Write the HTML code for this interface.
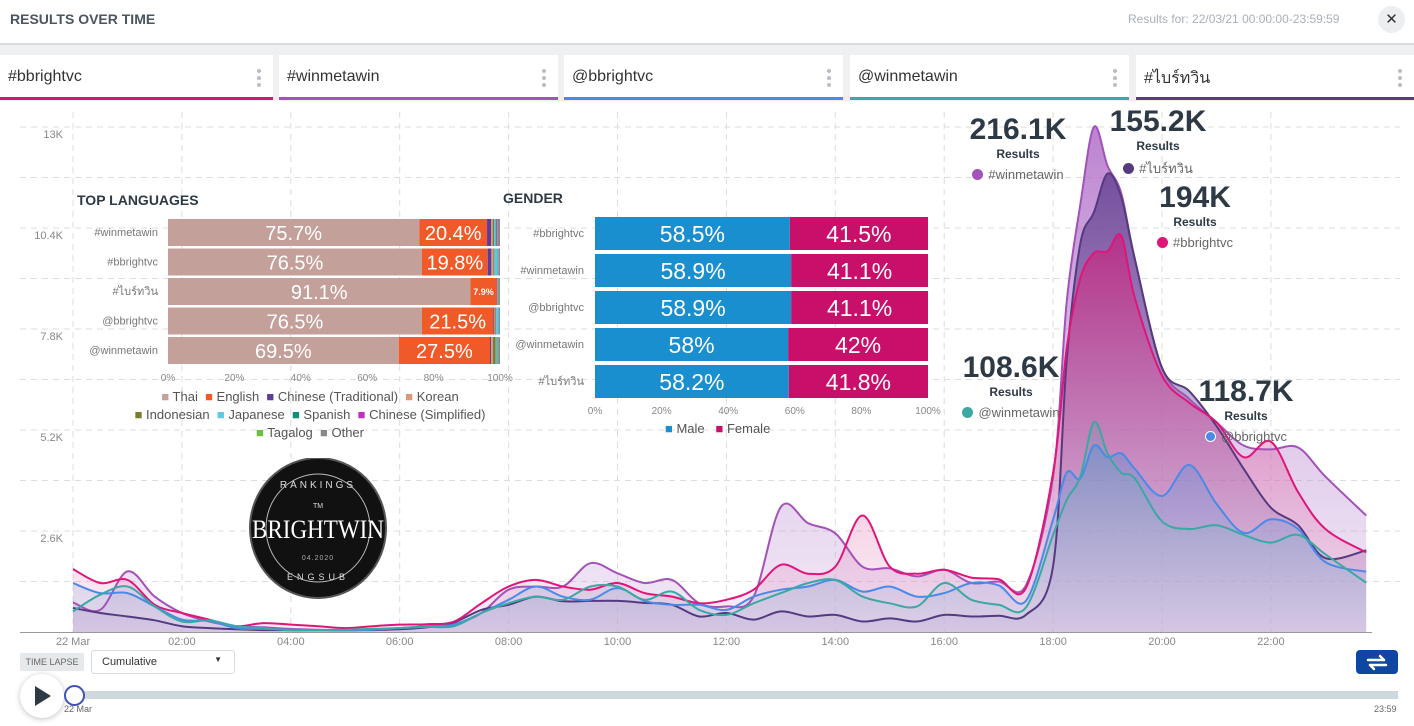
<!DOCTYPE html>
<html><head><meta charset="utf-8">
<style>
*{box-sizing:border-box;margin:0;padding:0}
body{width:1414px;height:726px;background:#fff;font-family:"Liberation Sans",sans-serif;position:relative;overflow:hidden;color:#333}
.abs{position:absolute}
.tab{position:absolute;top:55px;height:45px;background:#fff;font-size:16px;color:#333;padding:13px 0 0 8px}
.kebab{position:absolute;right:12px;top:14px;width:4px;height:18px}
.kebab i{display:block;width:4px;height:4px;border-radius:2px;background:#b8bec4;margin-bottom:3px}
</style></head><body>
<div class="abs" style="left:10px;top:11px;font-size:14px;font-weight:bold;color:#4a5560">RESULTS OVER TIME</div>
<div class="abs" style="left:1128px;top:12px;font-size:12px;color:#a8b0b8">Results for: 22/03/21 00:00:00-23:59:59</div>
<div class="abs" style="left:1378px;top:6px;width:27px;height:27px;border-radius:14px;background:#eceef0;text-align:center;line-height:27px;font-size:15px;color:#333">✕</div>
<div class="abs" style="left:0;top:43px;width:1414px;height:2px;background:#d8dcdf"></div>
<div class="abs" style="left:0;top:45px;width:1414px;height:56px;background:#eef0f2"></div>
<div class="tab" style="left:0;width:273px;border-bottom:3px solid #d4166f">#bbrightvc<span class="kebab"><i></i><i></i><i></i></span></div>
<div class="tab" style="left:279px;width:279px;border-bottom:3px solid #a352b8">#winmetawin<span class="kebab"><i></i><i></i><i></i></span></div>
<div class="tab" style="left:564px;width:279px;border-bottom:3px solid #4a8ae0">@bbrightvc<span class="kebab"><i></i><i></i><i></i></span></div>
<div class="tab" style="left:850px;width:279px;border-bottom:3px solid #3aa8a4">@winmetawin<span class="kebab"><i></i><i></i><i></i></span></div>
<div class="tab" style="left:1136px;width:278px;border-bottom:3px solid #5b3a84;padding-top:11px">#ไบร์ทวิน<span class="kebab"><i></i><i></i><i></i></span></div>

<svg id="main" class="abs" style="left:0;top:0" width="1414" height="726">
<defs>
<linearGradient id="gP" x1="0" y1="0" x2="0" y2="1"><stop offset="0" stop-color="#b06cc8" stop-opacity="0.85"/><stop offset="1" stop-color="#c9a8dc" stop-opacity="0.25"/></linearGradient>
<linearGradient id="gD" x1="0" y1="0" x2="0" y2="1"><stop offset="0" stop-color="#5b3a8a" stop-opacity="0.75"/><stop offset="1" stop-color="#8a78b8" stop-opacity="0.15"/></linearGradient>
<linearGradient id="gK" x1="0" y1="0" x2="0" y2="1"><stop offset="0" stop-color="#d01a78" stop-opacity="0.65"/><stop offset="1" stop-color="#e890c0" stop-opacity="0.15"/></linearGradient>
<linearGradient id="gB" x1="0" y1="0" x2="0" y2="1"><stop offset="0" stop-color="#5a8ad8" stop-opacity="0.45"/><stop offset="1" stop-color="#b0b8e0" stop-opacity="0.2"/></linearGradient>
<linearGradient id="gT" x1="0" y1="0" x2="0" y2="1"><stop offset="0" stop-color="#40a8a8" stop-opacity="0.2"/><stop offset="1" stop-color="#c8c0e0" stop-opacity="0.25"/></linearGradient>
</defs>
<g id="grid"></g><g id="areas"></g><g id="lines"></g><g id="axes"></g>
</svg>

<script>
const times=[0,0.5,1,1.5,2,2.5,3,3.5,4,4.5,5,5.5,6,6.5,7,7.5,8,8.5,9,9.5,10,10.5,11,11.5,12,12.5,13,13.5,14,14.5,15,15.5,16,16.5,17,17.5,18,18.25,18.5,18.75,19,19.25,19.5,20,20.5,21,21.5,22,22.5,23,23.75];
const winmetawinTag=[0.76,0.57,1.56,0.91,0.49,0.27,0.15,0.12,0.08,0.06,0.05,0.06,0.1,0.15,0.2,0.49,1.09,1.17,1.17,1.77,1.51,1.26,1.34,0.74,0.66,0.91,3.22,2.8,2.54,1.68,1.64,1.43,1.6,1.26,1.3,1.2,4.0,8.5,11.0,13.0,12.0,11.3,9.6,6.8,6.0,5.4,4.8,4.7,4.75,4.0,3.0];
const brightwinTag=[0.62,0.49,0.4,0.3,0.15,0.1,0.07,0.05,0.05,0.05,0.05,0.05,0.07,0.12,0.25,0.57,0.7,0.91,0.79,0.8,0.8,0.75,0.7,0.4,0.49,0.32,0.53,0.4,0.44,0.27,0.35,0.27,0.44,0.4,0.42,0.44,1.7,7.0,10.0,10.8,11.8,11.2,9.6,6.8,6.2,5.3,4.2,3.2,2.75,1.9,2.1];
const bbrightvcTag=[1.62,1.26,1.34,0.7,0.49,0.32,0.15,0.23,0.19,0.15,0.1,0.15,0.19,0.2,0.27,0.74,1.17,1.34,1.17,1.09,1.26,1.0,0.91,0.74,0.83,1.09,1.73,1.5,1.68,3.0,1.68,1.5,1.6,1.4,1.36,1.13,4.1,7.3,9.1,9.75,9.8,10.2,8.6,6.6,5.9,5.4,4.5,4.9,3.6,2.65,2.05];
const bbrightvcMention=[1.26,1.0,1.0,0.66,0.32,0.28,0.1,0.08,0.06,0.05,0.04,0.06,0.1,0.15,0.19,0.49,0.83,1.17,0.91,0.83,1.13,0.8,0.7,0.7,0.57,0.91,1.09,1.17,1.34,1.04,1.17,0.91,1.0,1.26,1.2,0.8,2.9,4.1,3.95,4.8,4.5,4.6,4.2,3.5,4.3,3.3,2.55,2.9,2.65,1.8,1.55];
const winmetawinMention=[0.53,0.96,1.17,0.66,0.27,0.3,0.15,0.1,0.04,0.05,0.06,0.08,0.1,0.13,0.15,0.49,0.74,0.91,0.83,1.17,1.17,0.83,1.04,0.57,0.44,0.74,1.0,1.26,1.34,0.91,0.74,0.66,1.26,0.83,0.7,0.63,2.5,3.4,4.0,5.4,4.6,4.1,3.95,2.85,2.65,2.75,2.5,2.3,2.5,2.0,1.27];
const yTicks=[2.6,5.2,7.8,10.4,13];
const yTickLabels=["2.6K","5.2K","7.8K","10.4K","13K"];
const xTicks=[0,2,4,6,8,10,12,14,16,18,20,22];
const xTickLabels=["22 Mar","02:00","04:00","06:00","08:00","10:00","12:00","14:00","16:00","18:00","20:00","22:00"];

const NS="http://www.w3.org/2000/svg";
const X=t=>73+t*54.45, Y=v=>632-v*38.85;
function mk(tag,attrs,parent){const e=document.createElementNS(NS,tag);for(const k in attrs)e.setAttribute(k,attrs[k]);parent.appendChild(e);return e;}
function smooth(vals){const p=vals.map((v,i)=>[X(times[i]),Y(v)]);let d="M"+p[0][0]+","+p[0][1];
 for(let i=0;i<p.length-1;i++){const p0=p[Math.max(0,i-1)],p1=p[i],p2=p[i+1],p3=p[Math.min(p.length-1,i+2)];
 const c1=[p1[0]+(p2[0]-p0[0])/6,p1[1]+(p2[1]-p0[1])/6],c2=[p2[0]-(p3[0]-p1[0])/6,p2[1]-(p3[1]-p1[1])/6];
 d+=" C"+c1[0].toFixed(1)+","+c1[1].toFixed(1)+" "+c2[0].toFixed(1)+","+c2[1].toFixed(1)+" "+p2[0].toFixed(1)+","+p2[1].toFixed(1);}return d;}
const grid=document.getElementById('grid'),areas=document.getElementById('areas'),lines=document.getElementById('lines'),axes=document.getElementById('axes');
for(let v=1.3;v<=13.01;v+=1.3){const g=mk('line',{x1:20,x2:1400,y1:Y(v),y2:Y(v),stroke:'#dcdcdc','stroke-dasharray':'6,5'},grid);

}
for(let t=0;t<=22;t+=2){const g=mk('line',{x1:X(t),x2:X(t),y1:112,y2:632,stroke:'#dcdcdc','stroke-dasharray':'6,5'},grid);

}
yTicks.forEach((v,i)=>{const t=mk('text',{x:63,y:Y(v)+11,'text-anchor':'end','font-size':11,fill:'#888'},axes);t.textContent=yTickLabels[i];

});
xTicks.forEach((v,i)=>{const t=mk('text',{x:X(v),y:645,'text-anchor':'middle','font-size':11,fill:'#888'},axes);t.textContent=xTickLabels[i];

});
const ax=mk('line',{x1:20,x2:1372,y1:632.5,y2:632.5,stroke:'#999','stroke-width':1},axes);


const series=[
 {name:'series-winmetawin-hashtag',vals:winmetawinTag,color:'#a352b8',fill:'url(#gP)'},
 {name:'series-brightwin-thai',vals:brightwinTag,color:'#553a80',fill:'url(#gD)'},
 {name:'series-bbrightvc-hashtag',vals:bbrightvcTag,color:'#e0157a',fill:'url(#gK)'},
 {name:'series-bbrightvc-mention',vals:bbrightvcMention,color:'#4a8ae8',fill:'url(#gB)'},
 {name:'series-winmetawin-mention',vals:winmetawinMention,color:'#3aa8a4',fill:'url(#gT)'}];
series.forEach(s=>{const d=smooth(s.vals);
 const a=mk('path',{d:d+" L"+X(times[times.length-1])+",632 L"+X(0)+",632 Z",fill:s.fill,stroke:'none'},areas);
 
 
 const l=mk('path',{d:d,fill:'none',stroke:s.color,'stroke-width':2},lines);
 
 });
</script>

<!-- peak annotations -->
<div class="abs" style="left:948px;top:113px;width:140px;text-align:center">
<div style="font-size:30px;font-weight:bold;color:#2d3a45;line-height:34px">216.1K</div><div style="font-size:12px;font-weight:bold;color:#2d3a45">Results</div>
<div style="font-size:13px;color:#666;margin-top:6px"><span style="display:inline-block;width:11px;height:11px;border-radius:6px;background:#a352b8;vertical-align:-1px;margin-right:5px"></span>#winmetawin</div></div>
<div class="abs" style="left:1088px;top:105px;width:140px;text-align:center">
<div style="font-size:30px;font-weight:bold;color:#2d3a45;line-height:34px">155.2K</div><div style="font-size:12px;font-weight:bold;color:#2d3a45">Results</div>
<div style="font-size:13px;color:#666;margin-top:5px"><span style="display:inline-block;width:11px;height:11px;border-radius:6px;background:#553a80;vertical-align:-1px;margin-right:5px"></span>#ไบร์ทวิน</div></div>
<div class="abs" style="left:1125px;top:181px;width:140px;text-align:center">
<div style="font-size:30px;font-weight:bold;color:#2d3a45;line-height:34px">194K</div><div style="font-size:12px;font-weight:bold;color:#2d3a45">Results</div>
<div style="font-size:13px;color:#666;margin-top:6px"><span style="display:inline-block;width:11px;height:11px;border-radius:6px;background:#e0157a;vertical-align:-1px;margin-right:5px"></span>#bbrightvc</div></div>
<div class="abs" style="left:941px;top:351px;width:140px;text-align:center">
<div style="font-size:30px;font-weight:bold;color:#2d3a45;line-height:34px">108.6K</div><div style="font-size:12px;font-weight:bold;color:#2d3a45">Results</div>
<div style="font-size:13px;color:#666;margin-top:6px"><span style="display:inline-block;width:11px;height:11px;border-radius:6px;background:#3aa8a4;vertical-align:-1px;margin-right:5px"></span>@winmetawin</div></div>
<div class="abs" style="left:1176px;top:375px;width:140px;text-align:center">
<div style="font-size:30px;font-weight:bold;color:#2d3a45;line-height:34px">118.7K</div><div style="font-size:12px;font-weight:bold;color:#2d3a45">Results</div>
<div style="font-size:13px;color:#666;margin-top:6px"><span style="display:inline-block;width:11px;height:11px;border-radius:6px;background:#4a8ae8;vertical-align:-1px;margin-right:5px;border:1px solid #fff"></span>@bbrightvc</div></div>

<!-- languages & gender -->
<div class="abs" style="left:77px;top:192px;font-size:14px;font-weight:bold;color:#2d3a45">TOP LANGUAGES</div>
<div class="abs" style="left:503px;top:190px;font-size:14px;font-weight:bold;color:#2d3a45">GENDER</div>
<svg class="abs" style="left:0;top:0" width="1414" height="726" id="bars"></svg>
<script>
const langSeries=["#winmetawin","#bbrightvc","#ไบร์ทวิน","@bbrightvc","@winmetawin"];
const langNames=["Thai","English","Chinese (Traditional)","Korean","Indonesian","Japanese","Spanish","Chinese (Simplified)","Tagalog","Other"];
const langColors=["#c4a09a","#f05a28","#5a3c9a","#d89a78","#7a7a30","#60c8e0","#10907a","#c030c0","#70c040","#888888"];
const langValues=[
 [75.7,20.4,1.2,0.5,0.4,0.5,0.2,0.2,0.1,0.8],
 [76.5,19.8,1.1,0.6,0.3,1.0,0.1,0.1,0.1,0.4],
 [91.1,7.9,0.2,0.2,0.2,0.1,0.1,0.0,0.0,0.2],
 [76.5,21.5,0.3,0.3,0.2,0.8,0.1,0.1,0.0,0.2],
 [69.5,27.5,0.3,0.6,0.8,0.3,0.2,0.1,0.2,0.5]];
const genderSeries=["#bbrightvc","#winmetawin","@bbrightvc","@winmetawin","#ไบร์ทวิน"];
const maleValues=[58.5,58.9,58.9,58,58.2];
const femaleValues=[41.5,41.1,41.1,42,41.8];
const pctTicks=[0,20,40,60,80,100];
const B=document.getElementById('bars');
function m(tag,a){const e=document.createElementNS(NS,tag);for(const k in a)e.setAttribute(k,a[k]);B.appendChild(e);return e;}
const LX=p=>168+p*3.32, GX=p=>595+p*3.33;
langSeries.forEach((s,r)=>{const y=219+r*29.5;const lb=m('text',{x:158,y:y+17,'text-anchor':'end','font-size':11,fill:'#777'});lb.textContent=s;
 
 
 let acc=0;langValues[r].forEach((v,i)=>{const rc=m('rect',{x:LX(acc),y:y,width:Math.max(0,v*3.32),height:27,fill:langColors[i]});
 
 
 if(v>5){const t=m('text',{x:LX(acc+v/2),y:y+(v<10?17:21),'text-anchor':'middle','font-size':v<10?9:20,'font-weight':v<10?'bold':'normal',fill:'#fff'});t.textContent=v+'%';
 
 }
 acc+=v;});});
pctTicks.forEach(p=>{const t=m('text',{x:LX(p),y:381,'text-anchor':'middle','font-size':10,fill:'#888'});t.textContent=p+'%';
 
 
 const g=m('text',{x:GX(p),y:414,'text-anchor':'middle','font-size':10,fill:'#888'});g.textContent=p+'%';
 
 });
genderSeries.forEach((s,r)=>{const y=217+r*37;const lb=m('text',{x:584,y:y+20,'text-anchor':'end','font-size':11,fill:'#777'});lb.textContent=s;
 
 
 const a=m('rect',{x:GX(0),y:y,width:maleValues[r]*3.33,height:33,fill:'#1a8fd0'});
 
 
 const b=m('rect',{x:GX(maleValues[r]),y:y,width:femaleValues[r]*3.33,height:33,fill:'#c8106a'});
 
 
 const t1=m('text',{x:GX(maleValues[r]/2),y:y+25,'text-anchor':'middle','font-size':23,fill:'#fff'});t1.textContent=maleValues[r]+'%';
 
 
 const t2=m('text',{x:GX(maleValues[r]+femaleValues[r]/2),y:y+25,'text-anchor':'middle','font-size':23,fill:'#fff'});t2.textContent=femaleValues[r]+'%';
 
 });
</script>
<div class="abs" style="left:70px;top:388px;width:480px;text-align:center;font-size:13px;color:#555;line-height:18px">
<div><span style="color:#c4a09a">■</span> Thai &nbsp;<span style="color:#f05a28">■</span> English &nbsp;<span style="color:#5a3c9a">■</span> Chinese (Traditional) &nbsp;<span style="color:#d89a78">■</span> Korean</div>
<div><span style="color:#7a7a30">■</span> Indonesian &nbsp;<span style="color:#60c8e0">■</span> Japanese &nbsp;<span style="color:#10907a">■</span> Spanish &nbsp;<span style="color:#c030c0">■</span> Chinese (Simplified)</div>
<div><span style="color:#70c040">■</span> Tagalog &nbsp;<span style="color:#888">■</span> Other</div></div>
<div class="abs" style="left:665px;top:421px;font-size:13px;color:#555"><span style="color:#1a8fd0">■</span> Male &nbsp;&nbsp;<span style="color:#c8106a">■</span> Female</div>

<!-- logo -->
<svg class="abs" style="left:248px;top:458px" width="142" height="142">
<ellipse cx="70" cy="70" rx="68" ry="70" fill="#111" stroke="#555" stroke-width="2"/>
<ellipse cx="70" cy="70" rx="52" ry="54" fill="none" stroke="#bbb" stroke-width="1"/>
<text x="70" y="30" text-anchor="middle" font-size="10" fill="#ddd" letter-spacing="3">RANKINGS</text>
<text x="70" y="50" text-anchor="middle" font-size="7" fill="#ddd">TM</text>
<text x="70" y="80" text-anchor="middle" font-size="26" fill="#fff" font-family="Liberation Serif" textLength="132" lengthAdjust="spacingAndGlyphs">BRIGHTWIN</text>
<text x="70" y="102" text-anchor="middle" font-size="7" fill="#aaa" letter-spacing="1">04.2020</text>
<text x="70" y="122" text-anchor="middle" font-size="9" fill="#ddd" letter-spacing="4">ENGSUB</text>
</svg>

<!-- time lapse -->
<div class="abs" style="left:20px;top:653px;width:64px;height:18px;background:#e6e9ec;font-size:9px;color:#666;text-align:center;line-height:18px">TIME LAPSE</div>
<div class="abs" style="left:91px;top:650px;width:144px;height:24px;border:1px solid #d8dcdf;border-radius:3px;font-size:11px;color:#333;padding:5px 0 0 10px">Cumulative<span style="position:absolute;right:12px;top:4px;font-size:8px">▼</span></div>
<div class="abs" style="left:1356px;top:650px;width:42px;height:24px;background:#0d47a1;border-radius:4px">
<svg width="42" height="24"><path d="M12 10 H28 M24 6 L28 10 M30 15 H14 M18 19 L14 15" stroke="#fff" stroke-width="2.5" fill="none" stroke-linecap="round"/></svg></div>
<div class="abs" style="left:20px;top:674px;width:44px;height:44px;border-radius:22px;background:#fff;box-shadow:0 1px 6px rgba(0,0,0,0.25)">
<svg width="44" height="44"><path d="M15 12 L31 22 L15 32 Z" fill="#2d3a45"/></svg></div>
<div class="abs" style="left:74px;top:691px;width:1324px;height:8px;background:#cfd8dc"></div>
<div class="abs" style="left:64px;top:685px;width:21px;height:21px;border-radius:11px;background:#fff;border:2px solid #3f51b5"></div>
<div class="abs" style="left:64px;top:704px;font-size:9px;color:#666">22 Mar</div>
<div class="abs" style="left:1374px;top:704px;font-size:9px;color:#666">23:59</div>
</body></html>
